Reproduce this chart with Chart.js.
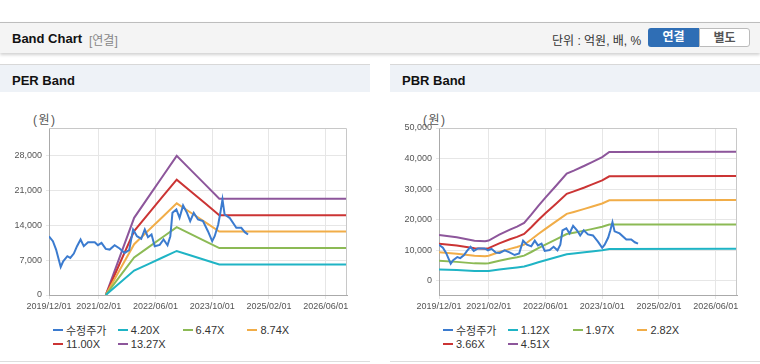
<!DOCTYPE html>
<html lang="ko">
<head>
  <meta charset="UTF-8">
  <title>Band Chart</title>
  <script src="https://cdn.jsdelivr.net/npm/chart.js"></script>
  <style>
    body { margin: 0; width: 760px; height: 364px; background: #fff; position: relative; overflow: hidden;
           font-family: "Liberation Sans", Arial, "Noto Sans CJK KR", sans-serif; color: #222; }
    .topbar { position: absolute; left: 0; top: 22px; width: 760px; height: 30px; background: #f4f4f4;
              border-top: 1px solid #bdbdbd; box-shadow: 0 2px 3px rgba(0,0,0,0.18); }
    .topbar .ttl { position: absolute; left: 12px; top: 8px; font-size: 13px; font-weight: bold; color: #111; }
    .topbar .sub { position: absolute; left: 89px; top: 8px; font-size: 12px; color: #888; }
    .topbar .unit { position: absolute; left: 552px; top: 8px; font-size: 12px; color: #333; }
    .btn { position: absolute; top: 5px; height: 19px; width: 51px; font-size: 12px; font-weight: bold;
           text-align: center; line-height: 19px; box-sizing: border-box; }
    .btn.on { left: 648px; background: #2f6eb5; color: #fff; border-radius: 3px 0 0 3px; }
    .btn.off { left: 699px; background: #fff; color: #555; border: 1px solid #bbb; border-radius: 0 3px 3px 0; }
    .panel { position: absolute; top: 64px; width: 370px; height: 297px; border-bottom: 1px solid #ddd; }
    .phead { height: 28px; background: #eef2f7; border-top: 1px solid #d8d8d8; box-sizing: border-box;
             font-size: 13px; font-weight: bold; color: #111; padding: 8px 0 0 12px; }
    .won { position: absolute; left: 33px; top: 46px; font-size: 12px; color: #555; letter-spacing: 1.5px; }
    .box { position: absolute; left: 0; top: 36px; width: 370px; height: 220px; }
    .legend { position: absolute; left: 53px; top: 259px; display: grid; grid-template-columns: repeat(4, 64.8px);
              row-gap: 1px; font-size: 11px; color: #333; }
    .legend span { display: flex; align-items: center; height: 13px; white-space: nowrap; }
    .legend i { display: inline-block; width: 10px; height: 2px; margin-right: 3px; }
  </style>
</head>
<body>
  <div class="topbar">
    <div class="ttl">Band Chart</div>
    <div class="sub">[연결]</div>
    <div class="unit">단위 : 억원, 배, %</div>
    <div class="btn on">연결</div>
    <div class="btn off">별도</div>
  </div>

  <div class="panel" style="left:0">
    <div class="phead">PER Band</div>
    <div class="won">(원)</div>
    <div class="box"><canvas id="perChart"></canvas></div>
    <div class="legend" id="perLegend"></div>
  </div>

  <div class="panel" style="left:390px">
    <div class="phead">PBR Band</div>
    <div class="won">(원)</div>
    <div class="box"><canvas id="pbrChart"></canvas></div>
    <div class="legend" id="pbrLegend"></div>
  </div>

<script>
  // x axis: months since 2019/12
  const xTickMonths = [0, 14, 30, 46, 62, 78];
  const xTickLabels = ['2019/12/01', '2021/02/01', '2022/06/01', '2023/10/01', '2025/02/01', '2026/06/01'];

  const colors = ['#3b7bcf', '#1fb4c5', '#8cba55', '#f1ad48', '#cb3434', '#8d569b'];

  // 수정주가 (same in both charts)
  const priceDates = ['2019/12/01', '2020/01/04', '2020/02/01', '2020/03/10', '2020/04/01', '2020/05/06', '2020/06/01',
    '2020/07/01', '2020/07/28', '2020/08/28', '2020/09/25', '2020/11/01', '2020/12/28', '2021/01/25', '2021/02/25',
    '2021/04/01', '2021/05/04', '2021/06/16', '2021/07/28', '2021/09/10', '2021/10/19', '2021/11/22', '2021/12/25',
    '2022/02/01', '2022/03/01', '2022/03/28', '2022/04/28', '2022/05/25', '2022/07/07', '2022/08/10', '2022/09/13',
    '2022/10/07', '2022/10/25', '2022/11/28', '2022/12/25', '2023/01/25', '2023/02/28', '2023/03/25', '2023/04/25',
    '2023/06/01', '2023/07/13', '2023/08/25', '2023/10/01', '2023/10/22', '2023/11/22', '2023/12/10', '2023/12/28',
    '2024/01/16', '2024/02/28', '2024/04/25', '2024/06/07', '2024/07/07', '2024/08/04'];
  const priceValues = [11800, 10830, 9140, 5650, 6790, 7800, 7460,
    8340, 9820, 11160, 9820, 10620, 10620, 10020, 10490,
    9280, 9140, 10020, 9350, 8470, 9010, 13180, 11830,
    11300, 13180, 11630, 12170, 9820, 10090, 11160, 10020,
    11830, 16540, 17210, 15530, 18020, 16540, 14860, 16540,
    15200, 14860, 12840, 10830, 11830, 14190, 16540, 19230,
    16200, 15530, 13520, 13520, 12640, 12170];

  // PER band
  const perLabels = ['수정주가', '4.20X', '6.47X', '8.74X', '11.00X', '13.27X'];
  const perBandDates = ['2021/04/01', '2021/08/01', '2021/12/01', '2022/04/01', '2022/08/01', '2022/12/01',
    '2023/04/01', '2023/08/01', '2023/12/01', '2026/12/01'];
  const per420 = [0, 2460, 4910, 6230, 7550, 8860, 7950, 7040, 6130, 6130];
  const per647 = [0, 3790, 7570, 9590, 11630, 13650, 12250, 10850, 9450, 9450];
  const per874 = [0, 5110, 10230, 12960, 15710, 18440, 16540, 14660, 12760, 12760];
  const per1100 = [0, 6440, 12870, 16310, 19770, 23210, 20820, 18450, 16060, 16060];
  const per1327 = [0, 7760, 15530, 19680, 23850, 28000, 25120, 22250, 19370, 19370];
  const perYTicks = [0, 7000, 14000, 21000, 28000];

  // PBR band
  const pbrLabels = ['수정주가', '1.12X', '1.97X', '2.82X', '3.66X', '4.51X'];
  const pbrBandDates = ['2019/12/01', '2020/05/01', '2020/10/01', '2021/01/01', '2021/02/01', '2021/05/01',
    '2021/08/01', '2021/10/01', '2021/12/01', '2022/02/01', '2022/04/01', '2022/06/01', '2022/09/01', '2022/12/01',
    '2023/02/01', '2023/05/01', '2023/07/01', '2023/10/01', '2023/12/01', '2026/12/01'];
  const pbr112 = [3730, 3540, 3260, 3220, 3280, 3750, 4170, 4410, 4700, 5380, 6090, 6760, 7730, 8710,
    8960, 9350, 9630, 10060, 10470, 10490];
  const pbr197 = [6560, 6230, 5740, 5660, 5770, 6600, 7330, 7760, 8270, 9460, 10720, 11900, 13590, 15330,
    15760, 16450, 16940, 17690, 18420, 18460];
  const pbr282 = [9390, 8910, 8220, 8110, 8260, 9450, 10490, 11110, 11840, 13540, 15340, 17030, 19460, 21940,
    22560, 23550, 24250, 25320, 26370, 26420];
  const pbr366 = [12190, 11570, 10670, 10520, 10720, 12260, 13620, 14420, 15370, 17570, 19910, 22110, 25250, 28470,
    29280, 30560, 31480, 32870, 34220, 34290];
  const pbr451 = [15020, 14250, 13150, 12970, 13210, 15110, 16780, 17770, 18940, 21650, 24530, 27240, 31120, 35090,
    36080, 37660, 38790, 40500, 42170, 42260];
  const pbrYTicks = [0, 10000, 20000, 30000, 40000, 50000];

  function monthIndex(s) {
    const [y, m, d] = s.split('/').map(Number);
    return (y - 2019) * 12 + (m - 12) + (d - 1) / 30;
  }
  function points(dates, values) {
    return dates.map((d, i) => ({ x: monthIndex(d), y: values[i] }));
  }

  // grey frame round the plot area
  const framePlugin = {
    id: 'frame',
    afterDraw(chart) {
      const a = chart.chartArea, ctx = chart.ctx;
      ctx.save();
      ctx.strokeStyle = '#c8c8c8';
      ctx.lineWidth = 1;
      ctx.beginPath();
      ctx.moveTo(a.left, a.top + 0.5);
      ctx.lineTo(a.right - 0.5, a.top + 0.5);
      ctx.lineTo(a.right - 0.5, a.bottom);
      ctx.stroke();
      ctx.restore();
    }
  };

  function makeChart(id, labels, seriesSets, yMin, yMax, yTicks) {
    const tickFont = { family: '"Liberation Sans", Arial', size: 9 };
    new Chart(document.getElementById(id), {
      type: 'line',
      data: {
        datasets: seriesSets.map((s, i) => ({
          label: labels[i],
          data: points(s[0], s[1]),
          borderColor: colors[i],
          backgroundColor: colors[i],
          borderWidth: 2,
          pointRadius: 0,
          tension: 0,
          order: i === 0 ? 0 : 1
        }))
      },
      options: {
        animation: false,
        responsive: true,
        maintainAspectRatio: false,
        layout: { padding: { top: 28, right: 23, left: 0, bottom: 0 } },
        plugins: { legend: { display: false }, tooltip: { enabled: false } },
        scales: {
          x: {
            type: 'linear', min: 0, max: 84,
            afterBuildTicks: sc => { sc.ticks = xTickMonths.map(v => ({ value: v })); },
            afterFit: sc => { sc.height = 25; },
            ticks: {
              color: '#555', font: tickFont, padding: 2, maxRotation: 0, autoSkip: false,
              callback: (v) => xTickLabels[xTickMonths.indexOf(v)]
            },
            grid: { color: '#e6e6e6', tickLength: 4 },
            border: { color: '#aaa' }
          },
          y: {
            min: yMin, max: yMax,
            afterBuildTicks: sc => { sc.ticks = yTicks.map(v => ({ value: v })); },
            afterFit: sc => { sc.width = 49; },
            ticks: {
              color: '#555', font: tickFont, padding: 4,
              callback: v => v.toLocaleString('en-US')
            },
            grid: { color: '#e6e6e6', tickLength: 3 },
            border: { color: '#aaa' }
          }
        }
      },
      plugins: [framePlugin]
    });
  }

  function makeLegend(id, labels) {
    document.getElementById(id).innerHTML = labels
      .map((l, i) => `<span><i style="background:${colors[i]}"></i>${l}</span>`).join('');
  }

  makeChart('perChart', perLabels, [
    [priceDates, priceValues],
    [perBandDates, per420],
    [perBandDates, per647],
    [perBandDates, per874],
    [perBandDates, per1100],
    [perBandDates, per1327]
  ], 0, 33600, perYTicks);

  makeChart('pbrChart', pbrLabels, [
    [priceDates, priceValues],
    [pbrBandDates, pbr112],
    [pbrBandDates, pbr197],
    [pbrBandDates, pbr282],
    [pbrBandDates, pbr366],
    [pbrBandDates, pbr451]
  ], -4600, 50000, pbrYTicks);

  makeLegend('perLegend', perLabels);
  makeLegend('pbrLegend', pbrLabels);
</script>
</body>
</html>
